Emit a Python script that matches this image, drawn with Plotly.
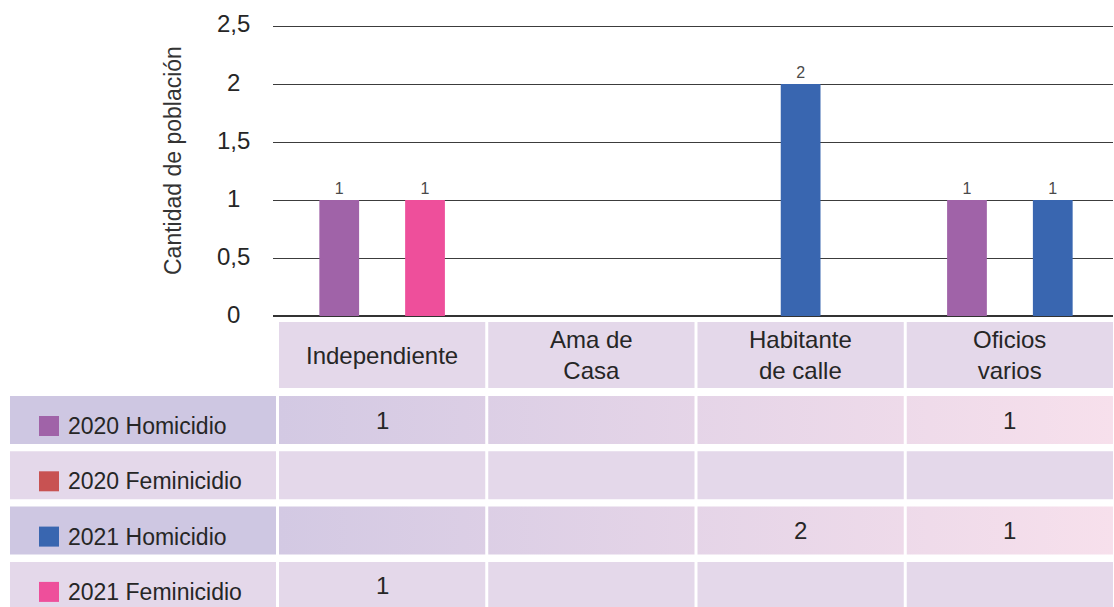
import plotly.graph_objects as go

W, H = 1114, 607

# ---- data ----
categories = ["Independiente", "Ama de<br>Casa", "Habitante<br>de calle", "Oficios<br>varios"]
series_names = ["2020 Homicidio", "2020 Feminicidio", "2021 Homicidio", "2021 Feminicidio"]
homicidio_2020 = [1, 0, 0, 1]
feminicidio_2020 = [0, 0, 0, 0]
homicidio_2021 = [0, 0, 2, 1]
feminicidio_2021 = [1, 0, 0, 0]
y_ticks = [0, 0.5, 1, 1.5, 2, 2.5]
y_title = "Cantidad de población"

series_values = [homicidio_2020, feminicidio_2020, homicidio_2021, feminicidio_2021]
series_colors = ["#A063A8", "#C85252", "#3966B0", "#EE4F9B"]

FONT = "Liberation Sans, Arial, sans-serif"
TXT = "#262626"

# ---- table geometry (pixels) ----
TABLE_LEFT, LABEL_RIGHT = 10, 276
COL_LEFT, COL_RIGHT, GAP = 279, 1113, 3
col_w = (COL_RIGHT - COL_LEFT - 3 * GAP) / 4
pitch = col_w + GAP
HEADER_TOP, HEADER_BOT = 322, 388
ROW_TOP0, ROW_H, ROW_PITCH = 396, 48, 55.3

# main plot area (pixels)
PLOT_L, PLOT_R = 273, 1113
PLOT_TOP, PLOT_BOT = 26, 316
Y_MAX = 2.5
Y_TOP = 2.52  # a bit of headroom so the 2,5 gridline is drawn
BAR_W = 0.19
BAR_STEP = 0.41

first_center = COL_LEFT + col_w / 2
x_lo = (PLOT_L - first_center) / pitch
x_hi = (PLOT_R - first_center) / pitch
px_per_unit = (PLOT_BOT - PLOT_TOP) / Y_MAX
dom_top_px = PLOT_BOT - Y_TOP * px_per_unit

fig = go.Figure()

# bars: only non-zero series are drawn, grouped around the category centre
present = [[s for s in range(len(series_values)) if series_values[s][c] > 0]
           for c in range(len(categories))]
for s, (name, vals, color) in enumerate(zip(series_names, series_values, series_colors)):
    xs, ys = [], []
    for c, v in enumerate(vals):
        if v > 0:
            k = present[c].index(s)
            n = len(present[c])
            xs.append(c + (k - (n - 1) / 2) * BAR_STEP)
            ys.append(v)
    if not xs:
        continue
    fig.add_trace(go.Bar(
        x=xs, y=ys, width=BAR_W, name=name,
        marker=dict(color=color, line=dict(width=0)),
        text=[str(v) for v in ys], textposition="outside",
        textfont=dict(size=16, color="#4A4A4A", family=FONT),
        cliponaxis=False, showlegend=False,
        xaxis="x", yaxis="y",
    ))


# ---- table cells on a pixel-space overlay axis ----
def rect_path(x0, x1, y0, y1):
    return [x0, x1, x1, x0, x0, None], [y0, y0, y1, y1, y0, None]


def add_cells(rects, color=None, gradient=None):
    xs, ys = [], []
    for r in rects:
        px, py = rect_path(*r)
        xs += px
        ys += py
    kw = dict(fillcolor=color) if color else dict(fillgradient=gradient)
    fig.add_trace(go.Scatter(
        x=xs, y=ys, mode="lines", fill="toself", line=dict(width=0),
        hoverinfo="skip", showlegend=False, xaxis="x2", yaxis="y2", **kw,
    ))


def col_x(i):
    x0 = COL_LEFT + i * pitch
    return x0, x0 + col_w


HEADER_FILL = "#E4D8EA"
PLAIN_FILL = "#E4D8EA"
LABEL_TINT = "#CEC7E2"
row_gradient = dict(type="horizontal", start=COL_LEFT, stop=COL_RIGHT,
                    colorscale=[[0, "#D3C9E3"], [1, "#F7E0EC"]])

# header row
add_cells([(*col_x(i), HEADER_TOP, HEADER_BOT) for i in range(len(categories))], color=HEADER_FILL)

annotations = []
for i, cat in enumerate(categories):
    x0, x1 = col_x(i)
    annotations.append(dict(
        x=(x0 + x1) / 2, y=(HEADER_TOP + HEADER_BOT) / 2, xref="x2", yref="y2",
        text=cat, showarrow=False, xanchor="center", yanchor="middle",
        font=dict(size=24, color=TXT, family=FONT),
    ))

for r, (name, vals, color) in enumerate(zip(series_names, series_values, series_colors)):
    top = ROW_TOP0 + r * ROW_PITCH
    bot = top + ROW_H
    tinted = r % 2 == 0
    add_cells([(TABLE_LEFT, LABEL_RIGHT, top, bot)], color=LABEL_TINT if tinted else PLAIN_FILL)
    data_rects = [(*col_x(i), top, bot) for i in range(len(categories))]
    if tinted:
        add_cells(data_rects, gradient=row_gradient)
    else:
        add_cells(data_rects, color=PLAIN_FILL)

    mid = (top + bot) / 2
    annotations.append(dict(
        x=66, y=mid + 6, xref="x2", yref="y2", text=name, showarrow=False,
        xanchor="left", yanchor="middle",
        font=dict(size=23, color=TXT, family=FONT),
    ))
    for i, v in enumerate(vals):
        if v > 0:
            x0, x1 = col_x(i)
            annotations.append(dict(
                x=(x0 + x1) / 2, y=mid, xref="x2", yref="y2", text=str(v),
                showarrow=False, xanchor="center", yanchor="middle",
                font=dict(size=24, color=TXT, family=FONT),
            ))

# legend swatches in the table's first column
shapes = []
for r, color in enumerate(series_colors):
    mid = ROW_TOP0 + r * ROW_PITCH + ROW_H / 2 + 6
    shapes.append(dict(type="rect", xref="x2", yref="y2",
                       x0=39, x1=59, y0=mid - 10, y1=mid + 10,
                       fillcolor=color, line=dict(width=0), layer="above"))

# y tick labels (centred, as in the original)
for t in y_ticks:
    annotations.append(dict(
        x=233 / W, y=t, xref="paper", yref="y", text=f"{t:g}".replace(".", ","),
        showarrow=False, xanchor="center", yanchor="middle", yshift=2,
        font=dict(size=24, color=TXT, family=FONT),
    ))

annotations.append(dict(
    x=173 / W, y=1 - 161 / H, xref="paper", yref="paper", text=y_title,
    textangle=-90, showarrow=False, xanchor="center", yanchor="middle",
    font=dict(size=23, color="#333333", family=FONT),
))

fig.update_layout(
    width=W, height=H,
    margin=dict(l=0, r=0, t=0, b=0),
    paper_bgcolor="white", plot_bgcolor="rgba(0,0,0,0)",
    barmode="overlay", showlegend=False,
    font=dict(family=FONT, color=TXT),
    xaxis=dict(domain=[PLOT_L / W, PLOT_R / W], range=[x_lo, x_hi],
               visible=False, fixedrange=True),
    yaxis=dict(domain=[1 - PLOT_BOT / H, 1 - dom_top_px / H], range=[0, Y_TOP],
               tickvals=y_ticks, showticklabels=False, ticks="",
               showgrid=True, gridcolor="#3C3C3C", gridwidth=1,
               zeroline=True, zerolinecolor="#333333", zerolinewidth=1.5,
               showline=False, fixedrange=True),
    xaxis2=dict(domain=[0, 1], range=[0, W], visible=False, anchor="y2", fixedrange=True),
    yaxis2=dict(domain=[0, 1], range=[H, 0], visible=False, anchor="x2", fixedrange=True),
    annotations=annotations,
    shapes=shapes,
)

fig.write_html("out.html", config={"displayModeBar": False},
               post_script="document.body.style.margin='0';")
